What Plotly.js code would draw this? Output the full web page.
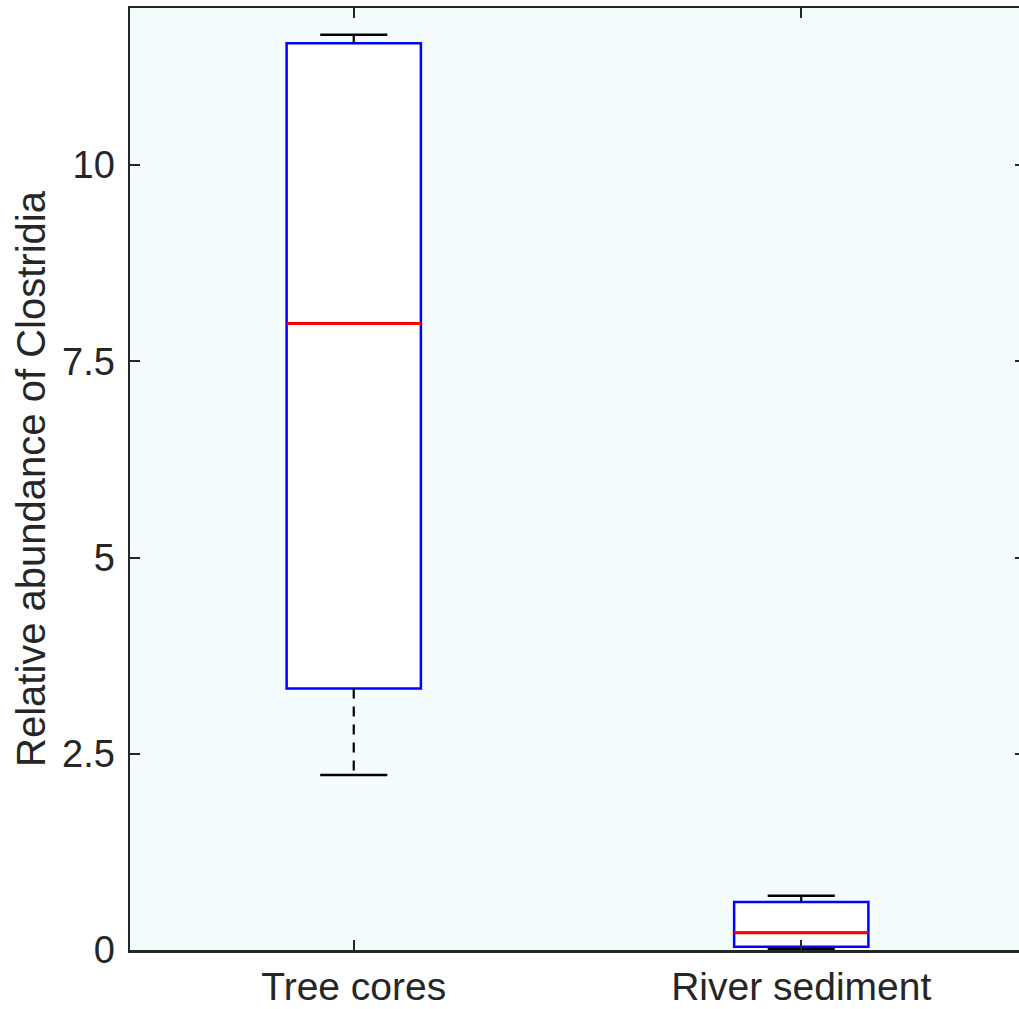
<!DOCTYPE html>
<html>
<head>
<meta charset="utf-8">
<script src="https://cdn.plot.ly/plotly-3.0.1.min.js"></script>
<style>
html, body { margin: 0; padding: 0; overflow: hidden; background: #ffffff; }
#chart { width: 1040px; height: 1009px; }
</style>
</head>
<body>
<div id="chart"></div>
<script>
// ---- data ----
var categories = ['Tree cores', 'River sediment'];
var positions = [1, 2];
var q1Values = [3.33, 0.04];
var medianValues = [7.98, 0.22];
var q3Values = [11.55, 0.61];
var lowerWhiskers = [2.23, 0.01];
var upperWhiskers = [11.66, 0.69];
var yTickValues = [0, 2.5, 5, 7.5, 10];
var yTickLabels = ['0', '2.5', '5', '7.5', '10'];
var yTitle = 'Relative abundance of Clostridia';

// ---- styles ----
var BOX_WIDTH = 0.3;
var CAP_WIDTH = 0.15;
var AXIS_COLOR = '#262626';
var FONT = 'Liberation Sans, Arial, Helvetica, sans-serif';

var traces = [];

// boxes (whiskers drawn separately MATLAB-style)
traces.push({
  type: 'box',
  x: positions,
  q1: q1Values,
  median: medianValues,
  q3: q3Values,
  lowerfence: q1Values,
  upperfence: q3Values,
  width: BOX_WIDTH,
  whiskerwidth: 0,
  boxpoints: false,
  fillcolor: '#ffffff',
  line: { color: '#0000ff', width: 2.5 },
  showlegend: false,
  hoverinfo: 'skip'
});

positions.forEach(function (p, i) {
  traces.push({
    type: 'scatter', mode: 'lines',
    x: [p, p], y: [q3Values[i], upperWhiskers[i]],
    line: { color: '#000000', width: 2.2, dash: '10px,8px' },
    showlegend: false, hoverinfo: 'skip'
  });
  traces.push({
    type: 'scatter', mode: 'lines',
    x: [p, p], y: [q1Values[i], lowerWhiskers[i]],
    line: { color: '#000000', width: 2.2, dash: '10px,8px' },
    showlegend: false, hoverinfo: 'skip'
  });
  traces.push({
    type: 'scatter', mode: 'lines',
    x: [p - CAP_WIDTH / 2, p + CAP_WIDTH / 2], y: [upperWhiskers[i], upperWhiskers[i]],
    line: { color: '#000000', width: 2.5 },
    showlegend: false, hoverinfo: 'skip'
  });
  traces.push({
    type: 'scatter', mode: 'lines',
    x: [p - CAP_WIDTH / 2, p + CAP_WIDTH / 2], y: [lowerWhiskers[i], lowerWhiskers[i]],
    line: { color: '#000000', width: 2.5 },
    showlegend: false, hoverinfo: 'skip'
  });
  traces.push({
    type: 'scatter', mode: 'lines',
    x: [p - BOX_WIDTH / 2, p + BOX_WIDTH / 2], y: [medianValues[i], medianValues[i]],
    line: { color: '#ff0000', width: 3 },
    showlegend: false, hoverinfo: 'skip'
  });
});

var layout = {
  width: 1040,
  height: 1009,
  margin: { l: 130, r: 15, t: 8, b: 59, pad: 0 },
  paper_bgcolor: '#ffffff',
  plot_bgcolor: '#f5fcfd',
  font: { family: FONT, color: AXIS_COLOR, size: 38 },
  showlegend: false,
  xaxis: {
    range: [0.5, 2.5],
    tickmode: 'array',
    tickvals: positions,
    ticktext: categories,
    ticks: 'inside',
    ticklen: 10,
    tickwidth: 2,
    tickcolor: AXIS_COLOR,
    showline: true,
    linecolor: AXIS_COLOR,
    linewidth: 2.5,
    mirror: 'ticks',
    showgrid: false,
    zeroline: false,
    tickfont: { family: FONT, size: 39, color: AXIS_COLOR },
    ticklabelstandoff: 1
  },
  yaxis: {
    range: [0, 12],
    tickmode: 'array',
    tickvals: yTickValues,
    ticktext: yTickLabels,
    ticks: 'inside',
    ticklen: 10,
    tickwidth: 2,
    tickcolor: AXIS_COLOR,
    showline: true,
    linecolor: AXIS_COLOR,
    linewidth: 2.5,
    mirror: 'ticks',
    showgrid: false,
    zeroline: false,
    tickfont: { family: FONT, size: 38, color: AXIS_COLOR },
    ticklabelstandoff: 5
  },
  annotations: [{
    text: yTitle,
    xref: 'paper', yref: 'paper',
    x: 0, y: 0.5,
    xanchor: 'center', yanchor: 'middle',
    xshift: -99,
    textangle: -90,
    showarrow: false,
    font: { family: FONT, size: 40, color: AXIS_COLOR }
  }]
};

Plotly.newPlot('chart', traces, layout, { staticPlot: true, displayModeBar: false });
</script>
</body>
</html>
